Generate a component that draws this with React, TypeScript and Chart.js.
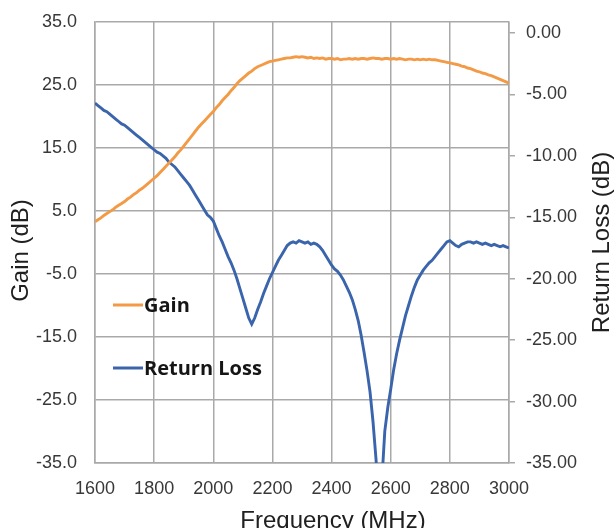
import React, { useEffect, useRef } from "react";
import { Chart, registerables } from "chart.js";

Chart.register(...registerables);

// Swept measurement, 10 MHz steps
const FREQ_MHZ = [
  1600, 1610, 1620, 1630, 1640, 1650, 1660, 1670, 1680, 1690,
  1700, 1710, 1720, 1730, 1740, 1750, 1760, 1770, 1780, 1790,
  1800, 1810, 1820, 1830, 1840, 1850, 1860, 1870, 1880, 1890,
  1900, 1910, 1920, 1930, 1940, 1950, 1960, 1970, 1980, 1990,
  2000, 2010, 2020, 2030, 2040, 2050, 2060, 2070, 2080, 2090,
  2100, 2110, 2120, 2130, 2140, 2150, 2160, 2170, 2180, 2190,
  2200, 2210, 2220, 2230, 2240, 2250, 2260, 2270, 2280, 2290,
  2300, 2310, 2320, 2330, 2340, 2350, 2360, 2370, 2380, 2390,
  2400, 2410, 2420, 2430, 2440, 2450, 2460, 2470, 2480, 2490,
  2500, 2510, 2520, 2530, 2540, 2550, 2560, 2570, 2580, 2590,
  2600, 2610, 2620, 2630, 2640, 2650, 2660, 2670, 2680, 2690,
  2700, 2710, 2720, 2730, 2740, 2750, 2760, 2770, 2780, 2790,
  2800, 2810, 2820, 2830, 2840, 2850, 2860, 2870, 2880, 2890,
  2900, 2910, 2920, 2930, 2940, 2950, 2960, 2970, 2980, 2990,
  3000,
];

const GAIN_DB = [
  3.3, 3.6, 3.9, 4.3, 4.6, 4.9, 5.2, 5.6, 5.9, 6.2,
  6.5, 6.9, 7.2, 7.6, 7.9, 8.3, 8.6, 9.0, 9.4, 9.8,
  10.2, 10.6, 11.1, 11.6, 12.1, 12.6, 13.1, 13.6, 14.2, 14.7,
  15.3, 15.9, 16.5, 17.1, 17.7, 18.3, 18.8, 19.3, 19.8, 20.3,
  20.8, 21.4, 21.9, 22.5, 23.0, 23.5, 24.1, 24.6, 25.2, 25.7,
  26.1, 26.5, 26.9, 27.2, 27.6, 27.9, 28.1, 28.3, 28.5, 28.7,
  28.8, 28.9, 29.0, 29.1, 29.2, 29.3, 29.3, 29.4, 29.5, 29.4,
  29.5, 29.4, 29.3, 29.4, 29.2, 29.3, 29.2, 29.3, 29.1, 29.2,
  29.2, 29.1, 29.2, 29.0, 29.1, 29.1, 29.2, 29.1, 29.2, 29.1,
  29.2, 29.2, 29.1, 29.2, 29.3, 29.2, 29.2, 29.1, 29.2, 29.2,
  29.1, 29.2, 29.1, 29.2, 29.1, 29.0, 29.1, 29.1, 29.0, 29.1,
  29.0, 29.1, 29.0, 29.1, 29.0, 29.0, 28.9, 28.8, 28.7, 28.6,
  28.5, 28.4, 28.3, 28.2, 28.0, 27.9, 27.7, 27.6, 27.4, 27.2,
  27.1, 26.9, 26.8, 26.6, 26.5, 26.3, 26.1, 25.9, 25.7, 25.5,
  25.3,
];

const RETURN_LOSS_DB = [
  -5.7, -5.9, -6.1, -6.3, -6.4, -6.6, -6.8, -7.0, -7.2, -7.4,
  -7.5, -7.7, -7.9, -8.1, -8.3, -8.5, -8.7, -8.9, -9.1, -9.3,
  -9.5, -9.7, -9.8, -10.0, -10.2, -10.5, -10.7, -10.9, -11.2, -11.5,
  -11.8, -12.1, -12.4, -12.8, -13.2, -13.6, -14.0, -14.4, -14.8, -15.0,
  -15.3, -15.9, -16.5, -17.0, -17.6, -18.2, -18.7, -19.3, -20.0, -20.8,
  -21.6, -22.4, -23.2, -23.7, -23.2, -22.5, -21.9, -21.2, -20.6, -20.0,
  -19.5, -19.0, -18.5, -18.1, -17.7, -17.3, -17.1, -17.0, -17.1, -16.9,
  -17.0, -17.1, -17.0, -17.2, -17.1, -17.2, -17.4, -17.7, -18.1, -18.5,
  -18.9, -19.2, -19.4, -19.7, -20.1, -20.6, -21.1, -21.7, -22.5, -23.4,
  -24.6, -26.0, -27.5, -29.2, -31.6, -34.6, -38.0, -36.5, -32.4, -30.5,
  -29.0, -27.4, -26.1, -25.0, -24.0, -23.0, -22.2, -21.4, -20.7, -20.1,
  -19.7, -19.3, -19.0, -18.7, -18.5, -18.2, -17.9, -17.6, -17.3, -17.0,
  -16.9, -17.1, -17.3, -17.4, -17.2, -17.1, -17.0, -17.0, -17.1, -17.0,
  -17.1, -17.2, -17.1, -17.2, -17.3, -17.2, -17.3, -17.4, -17.3, -17.4,
  -17.5,
];

const FREQ_TICKS = [1600, 1800, 2000, 2200, 2400, 2600, 2800, 3000];
const GAIN_TICKS = [-35, -25, -15, -5, 5, 15, 25, 35];
const RETURN_LOSS_TICKS = [-35, -30, -25, -20, -15, -10, -5, 0];

const SERIES_NAMES = ["Gain", "Return Loss"];
const AXIS_TITLES = { x: "Frequency (MHz)", left: "Gain (dB)", right: "Return Loss (dB)" };

const ORANGE = "#f39a46";
const BLUE = "#3a64ab";
const GRID = "#a9a9a9";
const TICK_TEXT = "#383838";
const FONT = "'Liberation Sans', Arial, sans-serif";

// Draws the in-plot legend and the three axis titles
const overlayPlugin = {
  id: "overlay",
  afterDraw(chart: any) {
    const { ctx, chartArea } = chart;
    const { left, top, right, bottom } = chartArea;
    ctx.save();

    // legend rows inside the plot, lower left
    const rows = [
      { name: SERIES_NAMES[0], color: chart.data.datasets[0].borderColor, y: top + 283 },
      { name: SERIES_NAMES[1], color: chart.data.datasets[1].borderColor, y: top + 346 },
    ];
    ctx.font = `bold 20px 'Open Sans', 'Noto Sans', sans-serif`;
    ctx.textBaseline = "middle";
    ctx.textAlign = "left";
    rows.forEach((r) => {
      ctx.strokeStyle = r.color;
      ctx.lineWidth = 3;
      ctx.beginPath();
      ctx.moveTo(left + 18, r.y);
      ctx.lineTo(left + 48, r.y);
      ctx.stroke();
      ctx.fillStyle = "#151515";
      ctx.fillText(r.name, left + 49, r.y + 1);
    });

    // axis titles
    ctx.fillStyle = "#202020";
    ctx.font = `24px ${FONT}`;
    ctx.textAlign = "center";
    ctx.textBaseline = "middle";
    ctx.fillText(AXIS_TITLES.x, (left + right) / 2 + 31, bottom + 58);

    ctx.save();
    ctx.translate(left - 74, (top + bottom) / 2 + 8);
    ctx.rotate(-Math.PI / 2);
    ctx.fillText(AXIS_TITLES.left, 0, 0);
    ctx.restore();

    ctx.save();
    ctx.translate(right + 93, (top + bottom) / 2);
    ctx.rotate(-Math.PI / 2);
    ctx.fillText(AXIS_TITLES.right, 0, 0);
    ctx.restore();

    ctx.restore();
  },
};

export default function App() {
  const canvasRef = useRef<HTMLCanvasElement | null>(null);

  useEffect(() => {
    const canvas = canvasRef.current;
    if (!canvas) return;

    const tickFont = { family: FONT, size: 18 };

    const chart = new Chart(canvas, {
      type: "line",
      data: {
        labels: FREQ_MHZ,
        datasets: [
          {
            label: SERIES_NAMES[0],
            data: GAIN_DB,
            yAxisID: "y",
            borderColor: ORANGE,
            borderWidth: 2.9,
            pointRadius: 0,
            tension: 0,
            fill: false,
          },
          {
            label: SERIES_NAMES[1],
            data: RETURN_LOSS_DB,
            yAxisID: "y1",
            borderColor: BLUE,
            borderWidth: 2.9,
            pointRadius: 0,
            tension: 0,
            fill: false,
          },
        ],
      },
      options: {
        responsive: false,
        animation: false,
        devicePixelRatio: 1,
        layout: { padding: { top: 22, left: 0, right: 0, bottom: 0 } },
        plugins: {
          legend: { display: false },
          tooltip: { enabled: false },
          title: { display: false },
        },
        scales: {
          x: {
            type: "linear",
            min: 1600,
            max: 3000,
            afterBuildTicks: (s: any) => {
              s.ticks = FREQ_TICKS.map((value) => ({ value }));
            },
            afterFit: (s: any) => {
              s.height = 65;
            },
            ticks: {
              font: tickFont,
              color: TICK_TEXT,
              padding: 15,
              maxRotation: 0,
              autoSkip: false,
              callback: (v: any) => String(v),
            },
            grid: { color: GRID, lineWidth: 1.5, drawTicks: false },
            border: { display: true, color: GRID, width: 1.5 },
          },
          y: {
            position: "left",
            min: -35,
            max: 35,
            afterBuildTicks: (s: any) => {
              s.ticks = GAIN_TICKS.map((value) => ({ value }));
            },
            afterFit: (s: any) => {
              s.width = 95;
            },
            ticks: {
              font: tickFont,
              color: TICK_TEXT,
              padding: 4,
              callback: (v: any) => Number(v).toFixed(1),
            },
            // invisible tick marks reserve the gap between labels and plot
            grid: {
              color: GRID,
              lineWidth: 1.5,
              drawTicks: true,
              tickLength: 14,
              tickColor: "rgba(0,0,0,0)",
            },
            border: { display: true, color: GRID, width: 1.5 },
          },
          y1: {
            position: "right",
            min: -35,
            max: 0.9,
            afterBuildTicks: (s: any) => {
              s.ticks = RETURN_LOSS_TICKS.map((value) => ({ value }));
            },
            afterFit: (s: any) => {
              s.width = 105;
            },
            ticks: {
              font: tickFont,
              color: TICK_TEXT,
              padding: 11,
              callback: (v: any) => Number(v).toFixed(2),
            },
            grid: {
              drawOnChartArea: false,
              drawTicks: true,
              tickLength: 6,
              color: GRID,
              lineWidth: 1.5,
            },
            border: { display: true, color: GRID, width: 1.5 },
          },
        },
      },
      plugins: [overlayPlugin],
    } as any);

    return () => chart.destroy();
  }, []);

  return (
    <div style={{ position: "fixed", left: 0, top: 0, width: 614, height: 528, background: "#ffffff" }}>
      <canvas ref={canvasRef} width={614} height={528} style={{ display: "block" }} />
    </div>
  );
}
